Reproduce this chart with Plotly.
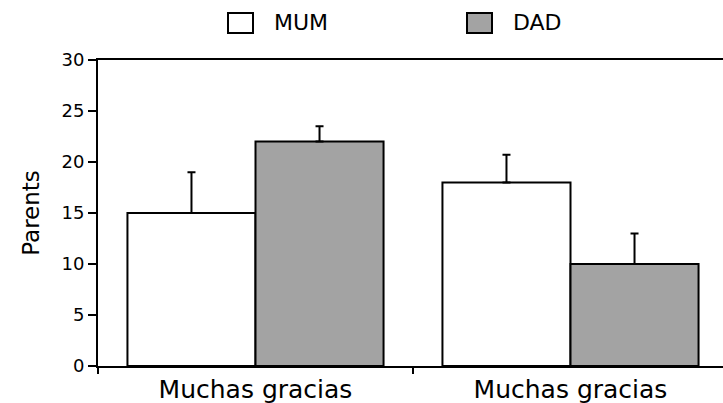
import plotly.graph_objects as go

# Data
groups = ["g1", "g2"]
group_labels = ["Muchas gracias", "Muchas gracias"]
mum_values = [15, 18]
mum_errors = [4, 2.7]
dad_values = [22, 10]
dad_errors = [1.5, 3]
y_ticks = [0, 5, 10, 15, 20, 25, 30]

W, H = 723, 403
ML, MR, MT, MB = 98, 0, 60, 37
FONT = "DejaVu Sans"


def px_x(p):
    return (p - ML) / (W - ML - MR)


def px_y(p):
    return (H - MB - p) / (H - MT - MB)


fig = go.Figure()
fig.add_trace(go.Bar(
    x=groups, y=mum_values, name="MUM",
    marker=dict(color="white", line=dict(color="black", width=2)),
    error_y=dict(type="data", symmetric=False, array=mum_errors,
                 arrayminus=[0] * len(mum_errors),
                 color="black", thickness=2, width=4),
))
fig.add_trace(go.Bar(
    x=groups, y=dad_values, name="DAD",
    marker=dict(color="#a3a3a3", line=dict(color="black", width=2)),
    error_y=dict(type="data", symmetric=False, array=dad_errors,
                 arrayminus=[0] * len(dad_errors),
                 color="black", thickness=2, width=4),
))

fig.update_layout(
    width=W, height=H,
    margin=dict(l=ML, r=MR, t=MT, b=MB),
    paper_bgcolor="white", plot_bgcolor="white",
    barmode="group", bargap=0.187, bargroupgap=0,
    showlegend=False,
    font=dict(family=FONT, color="black"),
)
fig.update_xaxes(
    type="category", range=[-0.5, -0.5 + (W - ML - MR) / 315],
    tickmode="array", tickvals=groups, ticktext=group_labels,
    tickson="boundaries", ticks="outside", ticklen=6, tickwidth=2,
    tickcolor="black", tickfont=dict(size=25, family=FONT),
    showline=True, linecolor="black", linewidth=2, mirror=True,
    showgrid=False, zeroline=False,
)
fig.update_yaxes(
    range=[0, 30], tickvals=y_ticks,
    ticks="outside", ticklen=8, tickwidth=2, tickcolor="black",
    tickfont=dict(size=18, family=FONT),
    showline=True, linecolor="black", linewidth=2,
    showgrid=False, zeroline=False,
    title=dict(text="Parents", font=dict(size=23, family=FONT)),
)

# Legend drawn as boxes with labels above the plot
legend_items = [("MUM", "white", 228, 272), ("DAD", "#a3a3a3", 467, 511)]
for label, fill, bx, tx in legend_items:
    fig.add_shape(type="rect", xref="paper", yref="paper",
                  x0=px_x(bx), x1=px_x(bx + 25), y0=px_y(33), y1=px_y(13),
                  fillcolor=fill, line=dict(color="black", width=2))
    fig.add_annotation(xref="paper", yref="paper", x=px_x(tx), y=px_y(23),
                       text=label, showarrow=False, xanchor="left",
                       yanchor="middle", font=dict(size=22, family=FONT))

fig.write_html("out.html")
